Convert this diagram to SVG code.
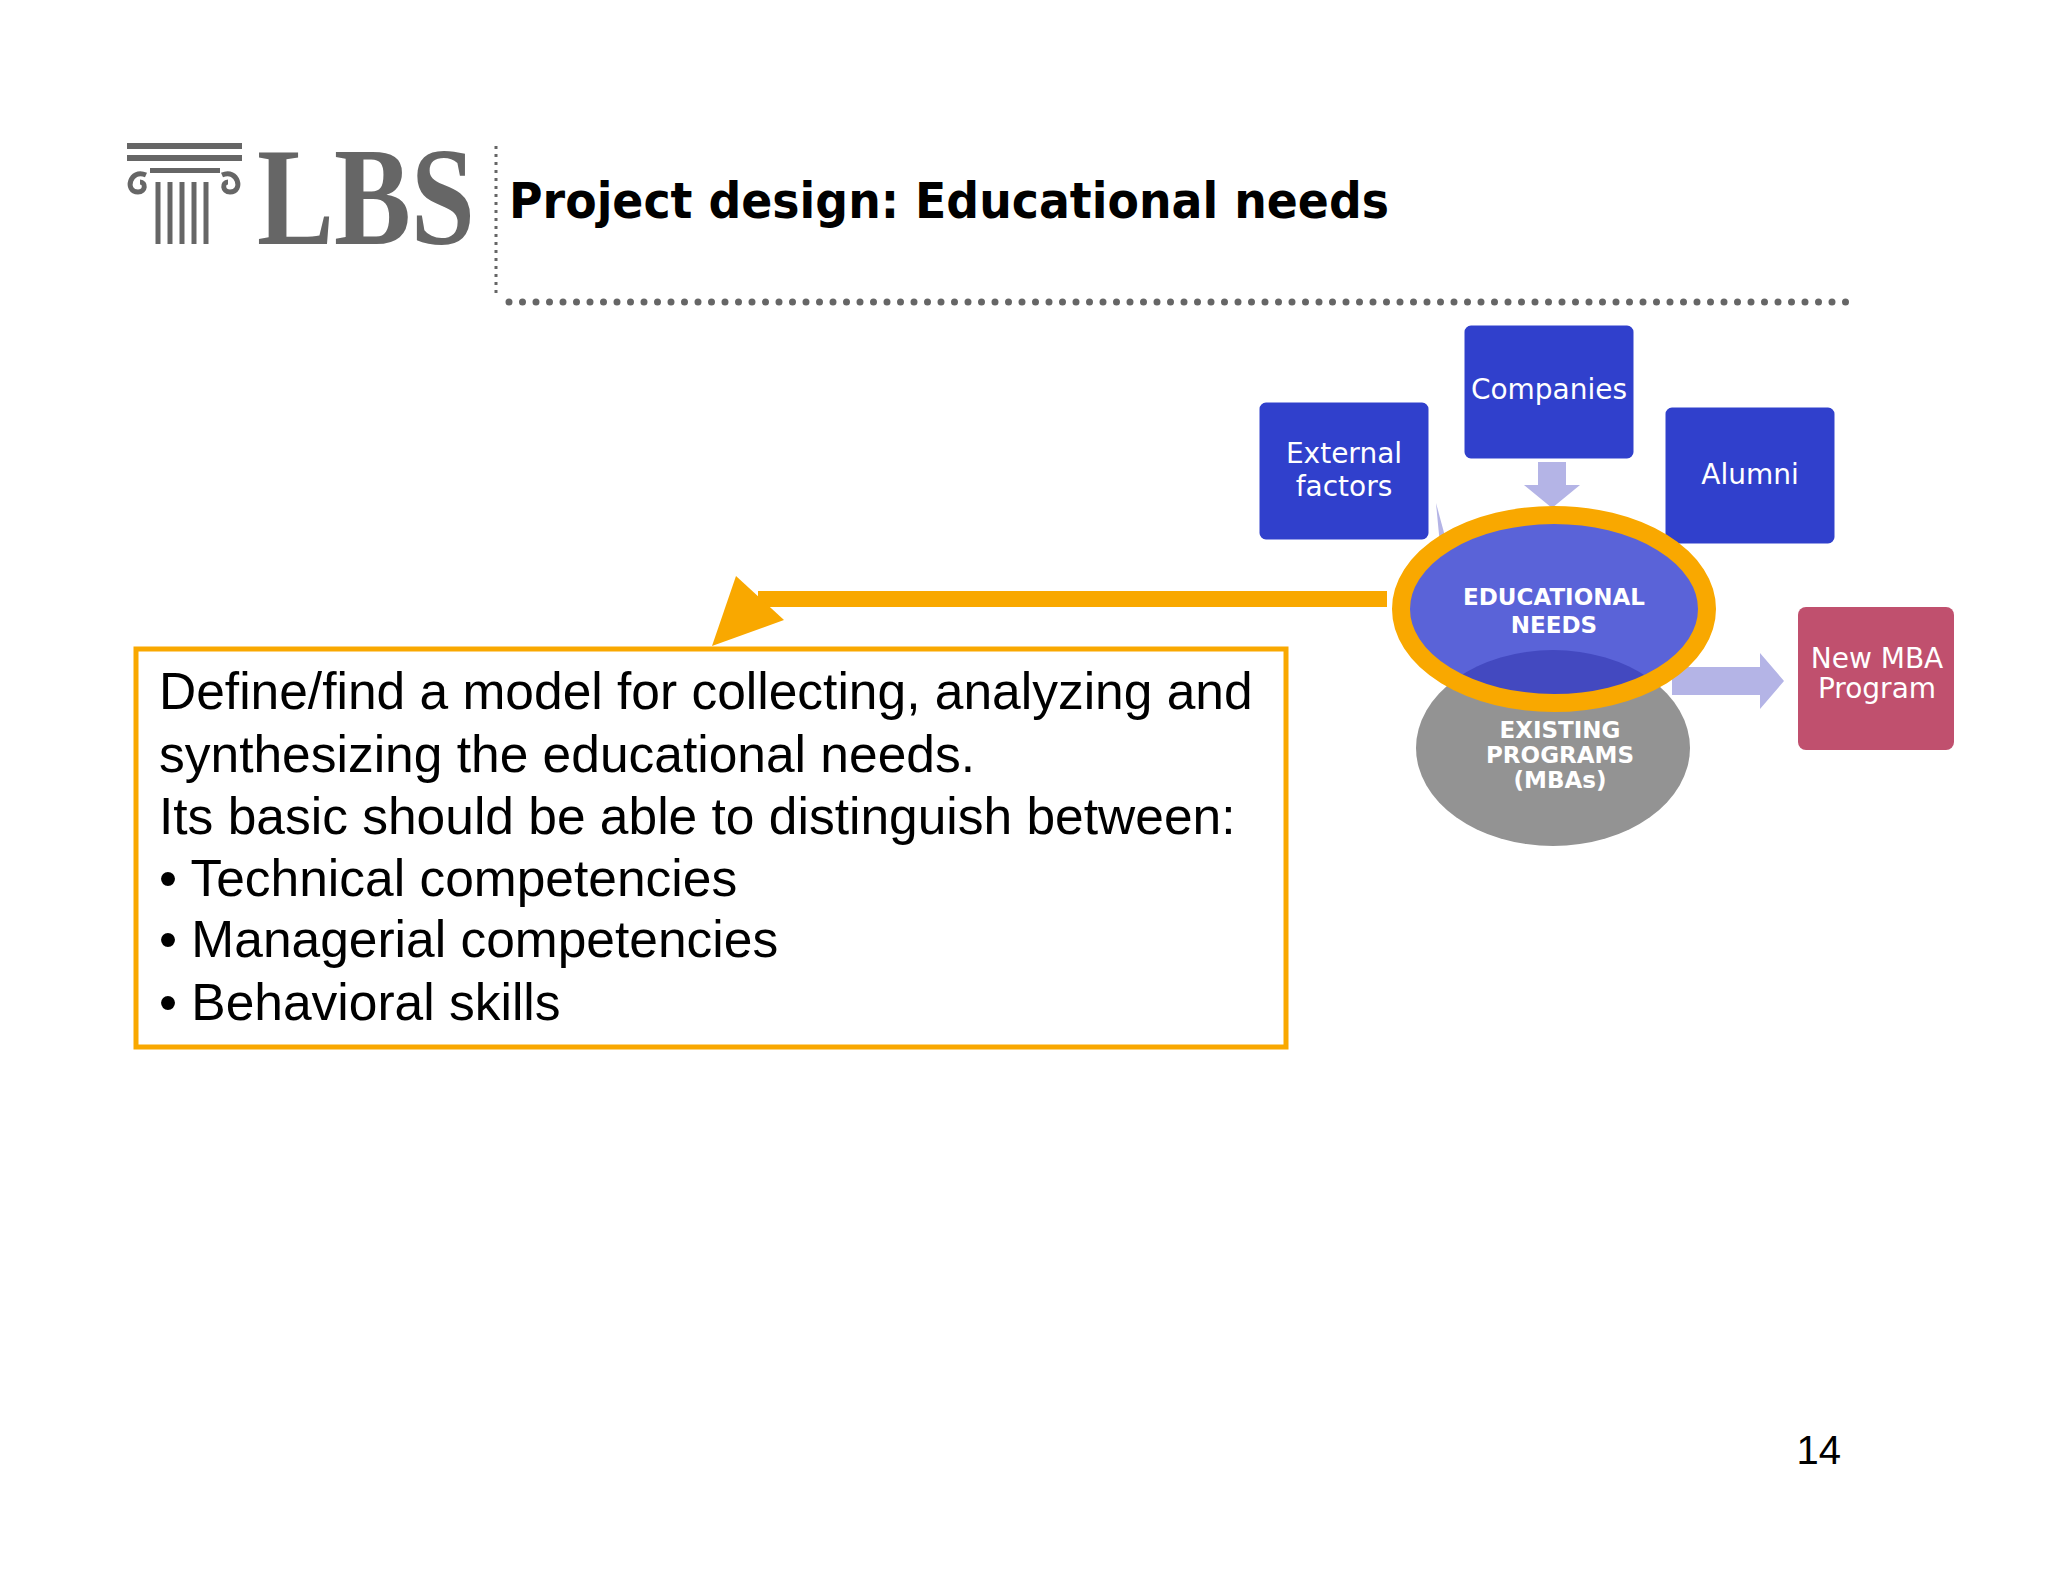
<svg xmlns="http://www.w3.org/2000/svg" width="2048" height="1582" viewBox="0 0 2048 1582">
<defs>
<style>
.box{fill:#3040cc;stroke:#ffffff;stroke-width:3}
.bt{font-family:"DejaVu Sans",Verdana,sans-serif;font-size:28px;fill:#ffffff;text-anchor:middle}
.ct{font-family:"DejaVu Sans",Verdana,sans-serif;font-size:23px;font-weight:bold;fill:#ffffff;text-anchor:middle}
.body{font-family:"Liberation Sans",Arial,sans-serif;font-size:51.5px;fill:#000000}
</style>
<clipPath id="gc"><ellipse cx="1553" cy="748" rx="137" ry="98"/></clipPath>
</defs>
<rect width="2048" height="1582" fill="#ffffff"/>
<g id="logo" fill="#666666">
<rect x="127" y="143" width="115" height="6"/>
<rect x="127" y="155" width="115" height="6"/>
<rect x="150" y="168" width="70" height="5"/>
<g stroke="#666666" stroke-width="5" fill="none">
<line x1="158" y1="182" x2="158" y2="244"/><line x1="170" y1="182" x2="170" y2="244"/><line x1="182" y1="182" x2="182" y2="244"/><line x1="194" y1="182" x2="194" y2="244"/><line x1="206" y1="182" x2="206" y2="244"/>
<path d="M146 175 C130 168 124 192 138 192 C146 192 146 182 140 182"/>
<path d="M222 175 C238 168 244 192 230 192 C222 192 222 182 228 182"/>
</g>
<text x="257" y="244" font-family="Liberation Serif,serif" font-weight="bold" font-size="140" textLength="218" lengthAdjust="spacingAndGlyphs">LBS</text>
</g>
<g id="header">
<line x1="496" y1="146" x2="496" y2="298" stroke="#666666" stroke-width="3" stroke-dasharray="3,5"/>
<line x1="509" y1="302" x2="1855" y2="302" stroke="#666666" stroke-width="7" stroke-linecap="round" stroke-dasharray="0,13.5"/>
<text x="509" y="218" font-family="DejaVu Sans,Verdana,sans-serif" font-weight="bold" font-size="50" textLength="880" lengthAdjust="spacingAndGlyphs" fill="#000">Project design: Educational needs</text>
</g>
<g id="connectors">
<polygon points="1538,462 1566,462 1566,485 1580,485 1552,508 1524,485 1538,485" fill="#b4b4e6"/>
<polygon points="1436,503 1446,540 1440,545" fill="#b4b4e6"/>
<polygon points="1672,667 1760,667 1760,653 1784,681 1760,709 1760,695 1672,695" fill="#b4b4e6"/>
<polygon points="1387,591 758,591 758,607 1387,607" fill="#f9a800"/>
<polygon points="712,646 736,576 784,620" fill="#f9a800"/>
</g>
<g id="companies"><rect class="box" x="1463" y="324" width="172" height="136" rx="8"/><text class="bt" x="1549" y="399">Companies</text></g>
<g id="external"><rect class="box" x="1258" y="401" width="172" height="140" rx="8"/><text class="bt" x="1344" y="463">External</text><text class="bt" x="1344" y="496">factors</text></g>
<g id="alumni"><rect class="box" x="1664" y="406" width="172" height="139" rx="8"/><text class="bt" x="1750" y="484">Alumni</text></g>
<g id="newmba"><rect x="1798" y="607" width="156" height="143" rx="8" fill="#c0506e"/><text class="bt" x="1877" y="668" font-size="23">New MBA</text><text class="bt" x="1877" y="698" font-size="23">Program</text></g>
<g id="existing"><ellipse cx="1553" cy="748" rx="137" ry="98" fill="#939393"/></g>
<g id="educational">
<ellipse cx="1554" cy="609" rx="153" ry="94" fill="#5a63d8"/>
<ellipse cx="1554" cy="609" rx="153" ry="94" fill="#4349c0" clip-path="url(#gc)"/>
<ellipse cx="1554" cy="609" rx="153" ry="94" fill="none" stroke="#f9a800" stroke-width="18"/>
<text class="ct" x="1554" y="605">EDUCATIONAL</text><text class="ct" x="1554" y="633">NEEDS</text>
</g>
<g id="existing-label"><text class="ct" x="1560" y="738">EXISTING</text><text class="ct" x="1560" y="763">PROGRAMS</text><text class="ct" x="1560" y="788">(MBAs)</text></g>
<g id="textbox">
<rect x="136" y="649" width="1150" height="398" fill="#ffffff" stroke="#f9a800" stroke-width="5"/>
<text class="body" x="159" y="709">Define/find a model for collecting, analyzing and</text>
<text class="body" x="159" y="772">synthesizing the educational needs.</text>
<text class="body" x="159" y="834">Its basic should be able to distinguish between:</text>
<text class="body" x="159" y="896">• Technical competencies</text>
<text class="body" x="159" y="957">• Managerial competencies</text>
<text class="body" x="159" y="1020">• Behavioral skills</text>
</g>
<text x="1841" y="1464" font-family="Liberation Sans,Arial,sans-serif" font-size="40" text-anchor="end" fill="#000">14</text>
</svg>
